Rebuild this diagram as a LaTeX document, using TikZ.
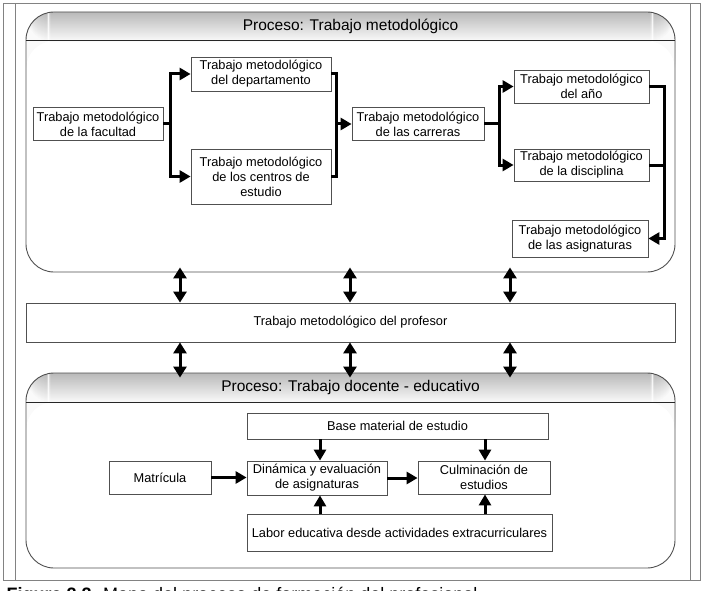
\documentclass[tikz,border=0pt]{standalone}
\usepackage{fontspec}
\setmainfont{Liberation Sans}
\usepackage{xcolor}
\usepackage{tikz}
\usetikzlibrary{positioning, arrows.meta, calc}
\definecolor{framegray}{RGB}{130, 130, 130}
\definecolor{boxgray}{RGB}{80, 80, 80}
\definecolor{hdrgray}{RGB}{185, 185, 185}
\definecolor{hdrwhite}{RGB}{250, 250, 250}
\tikzset{
  panel/.style={rounded corners=28pt, draw=boxgray, line width=0.9pt, inner sep=0pt,
                path picture={\foreach \k in {0,...,29}{
                  \pgfmathtruncatemacro\pc{\k*100/29}
                  \fill[hdrwhite!\pc!hdrgray]
                    ([yshift=-\k pt]path picture bounding box.north west) rectangle
                    ([yshift=-\k pt-1.2pt]path picture bounding box.north east);}}},
  hdrline/.style={black!85, line width=1.4pt},
  hdr/.style={font=\fontsize{15.5}{18}\selectfont},
  blk/.style={draw=boxgray, fill=white, line width=0.8pt, align=center,
              inner sep=2pt, font=\fontsize{12.8}{15}\selectfont},
  ln/.style={line width=3pt},
  arr/.style={-{Triangle[length=11pt, width=12pt]}, line width=3pt},
  dbl/.style={{Triangle[length=11pt, width=13pt]}-{Triangle[length=11pt, width=13pt]},
              line width=3pt},
}

\begin{document}
\begin{tikzpicture}[x=1pt, y=-1pt]
  \useasboundingbox (0,0) rectangle (704,591);

  % table frame
  \draw[framegray, line width=1pt] (3,4) rectangle (700,580);
  \draw[framegray, line width=1pt] (15,4) -- (15,580);
  \draw[framegray, line width=1pt] (690,4) -- (690,580);

  % ---- panel 1: trabajo metodologico ----
  \node[panel, minimum width=649pt, minimum height=260pt] (metod) at (350.5,142) {};
  \draw[hdrline] ([yshift=-29pt]metod.north west) -- ([yshift=-29pt]metod.north east);
  \node[hdr] (metodtit) at ([yshift=-14.5pt]metod.north) {Proceso: Trabajo metodológico};

  \node[blk, minimum width=130pt, minimum height=33pt] (facultad) at (98,124)
    {Trabajo metodológico\\de la facultad};
  \node[blk, minimum width=140pt, minimum height=34pt] (depto) at (261,74)
    {Trabajo metodológico\\del departamento};
  \node[blk, minimum width=140pt, minimum height=55pt] (centros) at (261,176.5)
    {Trabajo metodológico\\de los centros de\\estudio};
  \node[blk, minimum width=132pt, minimum height=33pt] (carreras) at (418,124)
    {Trabajo metodológico\\de las carreras};
  \node[blk, minimum width=135pt, minimum height=33pt] (anio) at (581.5,86.5)
    {Trabajo metodológico\\del año};
  \node[blk, minimum width=135pt, minimum height=32pt] (disciplina) at (581.5,165)
    {Trabajo metodológico\\de la disciplina};
  \node[blk, minimum width=136pt, minimum height=37pt] (asignaturas) at (580,238.5)
    {Trabajo metodológico\\de las asignaturas};

  % bus lines
  \coordinate (b1) at (170,0);
  \coordinate (b2) at (336,0);
  \coordinate (b3) at (499,0);
  \coordinate (b4) at (664,0);
  \draw[ln] (facultad.east) -- (facultad.east -| b1);
  \draw[arr] (facultad.east -| b1) |- (depto.west);
  \draw[arr] (facultad.east -| b1) |- (centros.west);
  \draw[ln] (depto.east) -| (centros.east -| b2) -- (centros.east);
  \draw[arr] (carreras.west -| b2) -- (carreras.west);
  \draw[ln] (carreras.east) -- (carreras.east -| b3);
  \draw[arr] (carreras.east -| b3) |- (anio.west);
  \draw[arr] (carreras.east -| b3) |- (disciplina.west);
  \draw[arr] (anio.east) -| (asignaturas.east -| b4) -- (asignaturas.east);
  \draw[ln] (disciplina.east) -- (disciplina.east -| b4);

  % ---- profesor ----
  \node[blk, minimum width=649pt, minimum height=39pt] (prof) at (350.5,322.5)
    {Trabajo metodológico del profesor};

  % ---- panel 2: trabajo docente ----
  \node[panel, minimum width=649pt, minimum height=195pt] (docente) at (350.5,470.5) {};
  \draw[hdrline] ([yshift=-30pt]docente.north west) -- ([yshift=-30pt]docente.north east);
  \node[hdr] (docentetit) at ([yshift=-15pt]docente.north) {Proceso: Trabajo docente - educativo};

  \foreach \x [count=\i] in {180, 350, 510} {
    \coordinate (d\i) at (\x,0);
    \draw[dbl, shorten <=-5pt] (metod.south -| d\i) -- (prof.north -| d\i);
    \draw[dbl, shorten >=-5pt] (prof.south -| d\i) -- (docente.north -| d\i);
  }

  \node[blk, minimum width=301pt, minimum height=26pt] (base) at (397.5,426)
    {Base material de estudio};
  \node[blk, minimum width=102pt, minimum height=33pt] (matricula) at (160,477.5)
    {Matrícula};
  \node[blk, minimum width=140pt, minimum height=34pt] (dinamica) at (317,478)
    {Dinámica y evaluación\\de asignaturas};
  \node[blk, minimum width=132pt, minimum height=33pt] (culminacion) at (484,477.5)
    {Culminación de\\estudios};
  \node[blk, minimum width=305pt, minimum height=37pt] (labor) at (399.5,532.5)
    {Labor educativa desde actividades extracurriculares};

  \coordinate (k1) at (320,0);
  \coordinate (k2) at (485,0);
  \draw[arr] (base.south -| k1) -- (dinamica.north -| k1);
  \draw[arr] (base.south -| k2) -- (culminacion.north -| k2);
  \draw[arr] (labor.north -| k1) -- (dinamica.south -| k1);
  \draw[arr] (labor.north -| k2) -- (culminacion.south -| k2);
  \draw[arr] (matricula.east) -- (dinamica.west |- matricula.east);
  \draw[arr] (dinamica.east) -- (culminacion.west |- dinamica.east);

  % caption, cut by the page edge
  \node[anchor=base west, font=\fontsize{18}{20}\selectfont] (caption) at (3,600)
    {\textbf{Figura 2.2.} Mapa del proceso de formación del profesional};
\end{tikzpicture}
\end{document}
